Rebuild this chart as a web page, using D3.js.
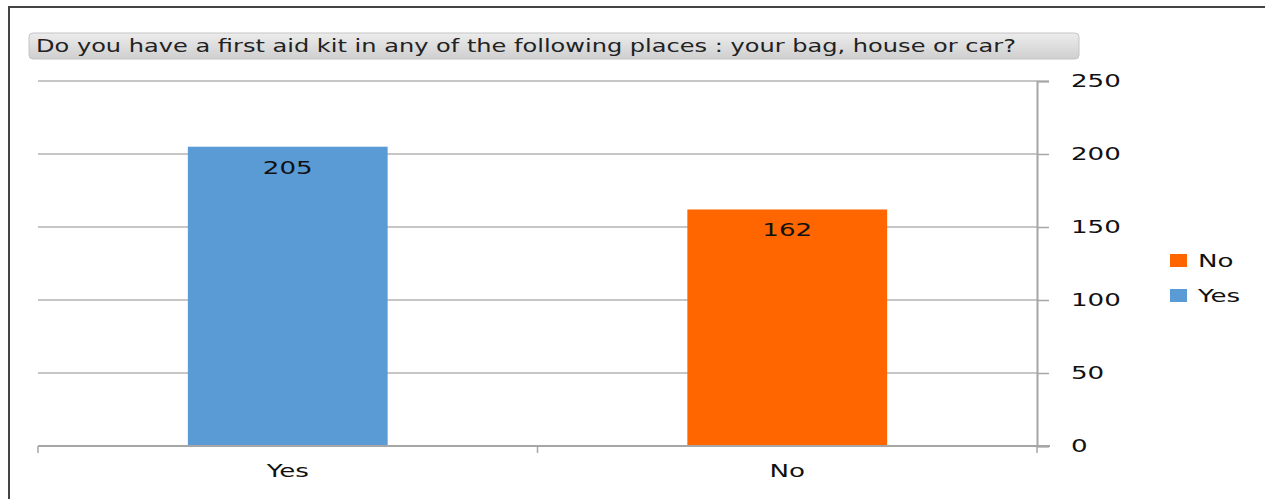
<!DOCTYPE html>
<html>
<head>
<meta charset="utf-8">
<script src="https://cdn.jsdelivr.net/npm/d3@7"></script>
<style>
  body { margin: 0; background: #fff; }
  svg { display: block; font-family: "DejaVu Sans", Verdana, sans-serif; }
</style>
</head>
<body>
<div id="chart"></div>
<script>
// data
const categories = ["Yes", "No"];
const values = [205, 162];
const barColors = ["#5b9bd5", "#ff6600"];
const yTicks = [0, 50, 100, 150, 200, 250];
const legendItems = ["No", "Yes"];
const title = "Do you have a first aid kit in any of the following places : your bag, house or car?";

const width = 1265, height = 499;
const plot = {left: 38, right: 1037, top: 81, bottom: 446};
const stretch = 1.45; // source image is stretched horizontally

// widen a text horizontally, keeping its anchor
function widen(sel) {
  sel.each(function() {
    const w = this.getComputedTextLength();
    d3.select(this)
      .attr("textLength", w * stretch)
      .attr("lengthAdjust", "spacingAndGlyphs");
  });
}

const svg = d3.select("#chart").append("svg")
  .attr("width", width)
  .attr("height", height);

// frame (left and top edges only are visible)
svg.append("path")
  .attr("d", `M9,${height}V7H${width}`)
  .attr("fill", "none")
  .attr("stroke", "#444")
  .attr("stroke-width", 2);

// title box
const grad = svg.append("defs").append("linearGradient")
  .attr("id", "tgrad").attr("x1", 0).attr("y1", 0).attr("x2", 0).attr("y2", 1);
grad.append("stop").attr("offset", "0%").attr("stop-color", "#ececec");
grad.append("stop").attr("offset", "100%").attr("stop-color", "#cfcfcf");

svg.append("rect")
  .attr("x", 29).attr("y", 33)
  .attr("width", 1050).attr("height", 26)
  .attr("rx", 4)
  .attr("fill", "url(#tgrad)")
  .attr("stroke", "#c4c4c4");

svg.append("text")
  .attr("x", 36).attr("y", 52)
  .attr("font-size", 17)
  .attr("fill", "#222")
  .attr("textLength", 980)
  .attr("lengthAdjust", "spacingAndGlyphs")
  .text(title);

// scales
const x = d3.scaleBand().domain(categories).range([plot.left, plot.right]);
const y = d3.scaleLinear().domain([0, 250]).range([plot.bottom, plot.top]);

// gridlines
svg.append("g")
  .selectAll("line")
  .data(yTicks.filter(d => d > 0))
  .join("line")
  .attr("x1", plot.left).attr("x2", plot.right)
  .attr("y1", d => y(d)).attr("y2", d => y(d))
  .attr("stroke", "#b3b3b3")
  .attr("stroke-width", 1.5);

// bars
const barW = x.bandwidth() * 0.4;
svg.append("g")
  .selectAll("rect")
  .data(values)
  .join("rect")
  .attr("x", (d, i) => x(categories[i]) + (x.bandwidth() - barW) / 2)
  .attr("y", d => y(d))
  .attr("width", barW)
  .attr("height", d => y(0) - y(d))
  .attr("fill", (d, i) => barColors[i]);

// value labels
svg.append("g")
  .selectAll("text")
  .data(values)
  .join("text")
  .attr("x", (d, i) => x(categories[i]) + x.bandwidth() / 2)
  .attr("y", d => y(d) + 27)
  .attr("text-anchor", "middle")
  .attr("font-size", 18)
  .attr("fill", "#111")
  .text(d => d)
  .call(widen);

// y axis on the right
const yAxis = svg.append("g")
  .attr("transform", `translate(${plot.right},0)`)
  .call(d3.axisRight(y).tickValues(yTicks).tickSize(12).tickPadding(22));
yAxis.select(".domain").attr("stroke", "#a6a6a6").attr("stroke-width", 2);
yAxis.selectAll(".tick line").attr("stroke", "#a6a6a6").attr("stroke-width", 1.5);
yAxis.selectAll(".tick text")
  .attr("font-size", 18)
  .attr("fill", "#111")
  .attr("font-family", "DejaVu Sans, Verdana, sans-serif")
  .call(widen);

// x axis
const xAxis = svg.append("g")
  .attr("transform", `translate(0,${plot.bottom})`)
  .call(d3.axisBottom(x).tickSize(0).tickPadding(18));
xAxis.select(".domain").attr("stroke", "#a6a6a6").attr("stroke-width", 2)
  .attr("d", `M${plot.left},0H${plot.right + 13}`);
xAxis.selectAll(".tick text")
  .attr("font-size", 18)
  .attr("fill", "#111")
  .attr("font-family", "DejaVu Sans, Verdana, sans-serif")
  .call(widen);
// category boundary ticks
const bounds = categories.map(c => x(c)).concat([plot.right]);
xAxis.selectAll(".bound")
  .data(bounds)
  .join("line")
  .attr("class", "bound")
  .attr("x1", d => d).attr("x2", d => d)
  .attr("y1", 0).attr("y2", 7)
  .attr("stroke", "#a6a6a6")
  .attr("stroke-width", 1.5);

// legend
const colorOf = d3.scaleOrdinal().domain(categories).range(barColors);
const legend = svg.append("g")
  .selectAll("g")
  .data(legendItems)
  .join("g")
  .attr("transform", (d, i) => `translate(1170,${260 + i * 35})`);
legend.append("rect")
  .attr("x", 0).attr("y", -6)
  .attr("width", 17).attr("height", 13)
  .attr("fill", d => colorOf(d));
legend.append("text")
  .attr("x", 28).attr("y", 7)
  .attr("font-size", 18)
  .attr("fill", "#111")
  .text(d => d)
  .call(widen);
</script>
</body>
</html>
